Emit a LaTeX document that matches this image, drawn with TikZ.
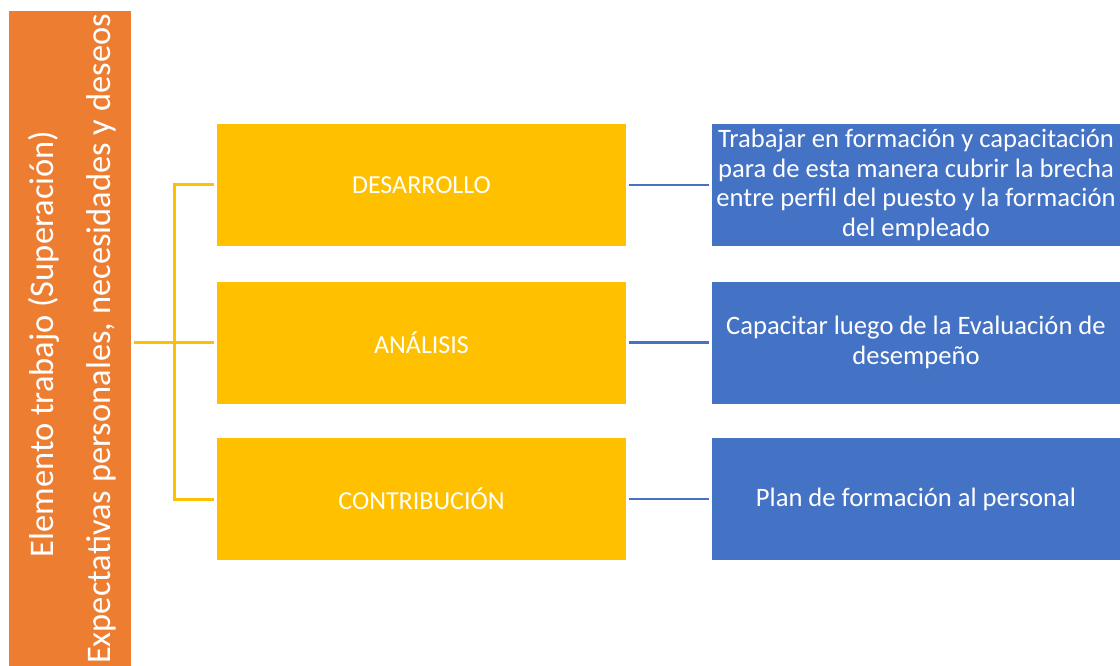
\documentclass[tikz,border=0pt]{standalone}
\usepackage{fontspec}
\setmainfont{Carlito}
\usepackage{tikz}
\usetikzlibrary{positioning,calc}
\definecolor{barorange}{RGB}{237,125,49}
\definecolor{boxyellow}{RGB}{255,192,0}
\definecolor{boxblue}{RGB}{68,114,196}

\begin{document}
\begin{tikzpicture}[x=1pt, y=-1pt,
    area/.style={draw=none, inner sep=0pt, text=white, align=center},
    ybox/.style={area, fill=boxyellow, minimum width=409pt, minimum height=122pt, font=\fontsize{26}{29.5}\selectfont},
    bbox/.style={area, fill=boxblue, minimum width=408pt, minimum height=122pt, font=\fontsize{26.6}{29.5}\selectfont},
    bartitle/.style={rotate=90, text=white, anchor=base, inner sep=0pt, font=\fontsize{34.5}{40}\selectfont},
    ylink/.style={boxyellow, line width=3pt},
    blink/.style={boxblue, line width=2.5pt}]
\useasboundingbox (0,0) rectangle (1120,666);
\node[fill=barorange, minimum width=122pt, minimum height=655pt, inner sep=0pt] (bar) at (70,338.5) {};
\node[bartitle] (bartop) at (53,344) {Elemento trabajo (Superación)};
\node[bartitle] (barbot) at (110,339) {Expectativas personales, necesidades y deseos};
\foreach \i/\y/\lbl/\txt in {1/185/DESARROLLO/{Trabajar en formación y capacitación\\para de esta manera cubrir la brecha\\entre perfil del puesto y la formación\\del empleado},
    2/342.5/ANÁLISIS/{Capacitar luego de la Evaluación de\\desempeño},
    3/499/CONTRIBUCIÓN/{Plan de formación al personal}}{
    \node[ybox] (y\i) at (421.5,\y) {\lbl};
    \node[bbox] (b\i) at (916,\y) {\txt};
    \draw[blink] ([xshift=3pt]y\i.east) -- ([xshift=-3pt]b\i.west);
}
% tree from the bar to the yellow boxes
\coordinate (jn) at (174,342.5);
\draw[ylink] ([xshift=-3pt]y1.west) -| (jn) |- ([xshift=-3pt]y3.west);
\draw[ylink] ([xshift=3pt]bar.east |- y2.west) -- ([xshift=-3pt]y2.west);
\end{tikzpicture}
\end{document}
